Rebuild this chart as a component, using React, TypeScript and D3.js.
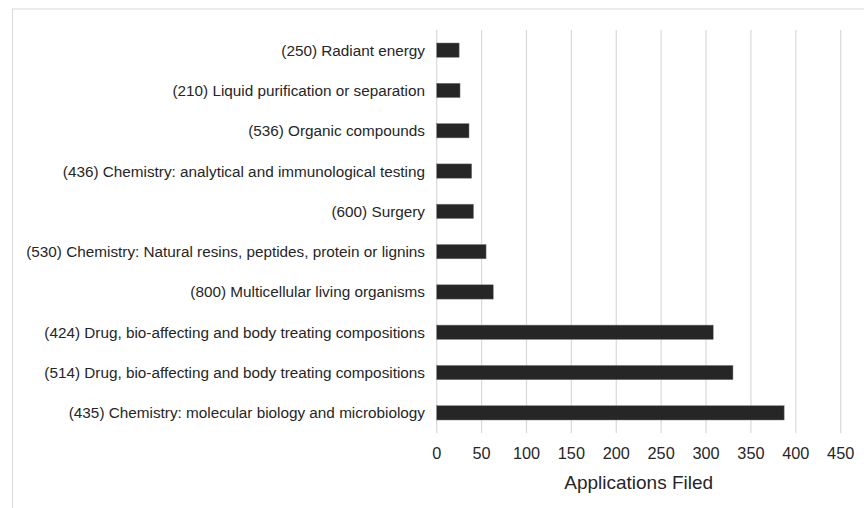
import React from "react";
import * as d3 from "d3";

const categories = [
  "(250) Radiant energy",
  "(210) Liquid purification or separation",
  "(536) Organic compounds",
  "(436) Chemistry: analytical and immunological testing",
  "(600) Surgery",
  "(530) Chemistry: Natural resins, peptides, protein or lignins",
  "(800) Multicellular living organisms",
  "(424) Drug, bio-affecting and body treating compositions",
  "(514) Drug, bio-affecting and body treating compositions",
  "(435) Chemistry: molecular biology and microbiology",
];
const values = [25, 26, 36, 39, 41, 55, 63, 308, 330, 387];
const xTicks = [0, 50, 100, 150, 200, 250, 300, 350, 400, 450];
const xTitle = "Applications Filed";

const W = 864;
const H = 508;
const left = 436.7;
const right = 840.7;
const top = 30;
const bottom = 433;
const FONT = "'Liberation Sans', Arial, sans-serif";

export default function App() {
  const x = d3.scaleLinear().domain([0, 450]).range([left, right]);
  const y = d3
    .scaleBand<string>()
    .domain(categories)
    .range([top, bottom])
    .paddingInner(0.645)
    .paddingOuter(0.3225);
  return (
    <svg
      width={W}
      height={H}
      style={{ position: "absolute", left: 0, top: 0, background: "#fff" }}
      fontFamily={FONT}
    >
      <rect x={12.5} y={9} width={W} height={H} fill="#fff" stroke="#d9d9d9" strokeWidth={1} />
      {xTicks.map((t) => (
        <line
          key={t}
          x1={x(t)}
          x2={x(t)}
          y1={top}
          y2={bottom}
          stroke="#d9d9d9"
          strokeWidth={1.2}
        />
      ))}
      {categories.map((c, i) => (
        <g key={c}>
          <rect
            x={x(0)}
            y={y(c)!}
            width={x(values[i]) - x(0)}
            height={y.bandwidth()}
            fill="#262626"
            stroke="#7f7f7f"
            strokeWidth={0.5}
          />
          <text
            x={425}
            y={y(c)! + y.bandwidth() / 2}
            textAnchor="end"
            dominantBaseline="central"
            fontSize={15.3}
            fill="#262626"
          >
            {c}
          </text>
        </g>
      ))}
      {xTicks.map((t) => (
        <text
          key={"t" + t}
          x={x(t)}
          y={453}
          textAnchor="middle"
          dominantBaseline="central"
          fontSize={16.3}
          fill="#262626"
        >
          {t}
        </text>
      ))}
      <text
        x={(left + right) / 2}
        y={482}
        textAnchor="middle"
        dominantBaseline="central"
        fontSize={19}
        fill="#262626"
      >
        {xTitle}
      </text>
    </svg>
  );
}
